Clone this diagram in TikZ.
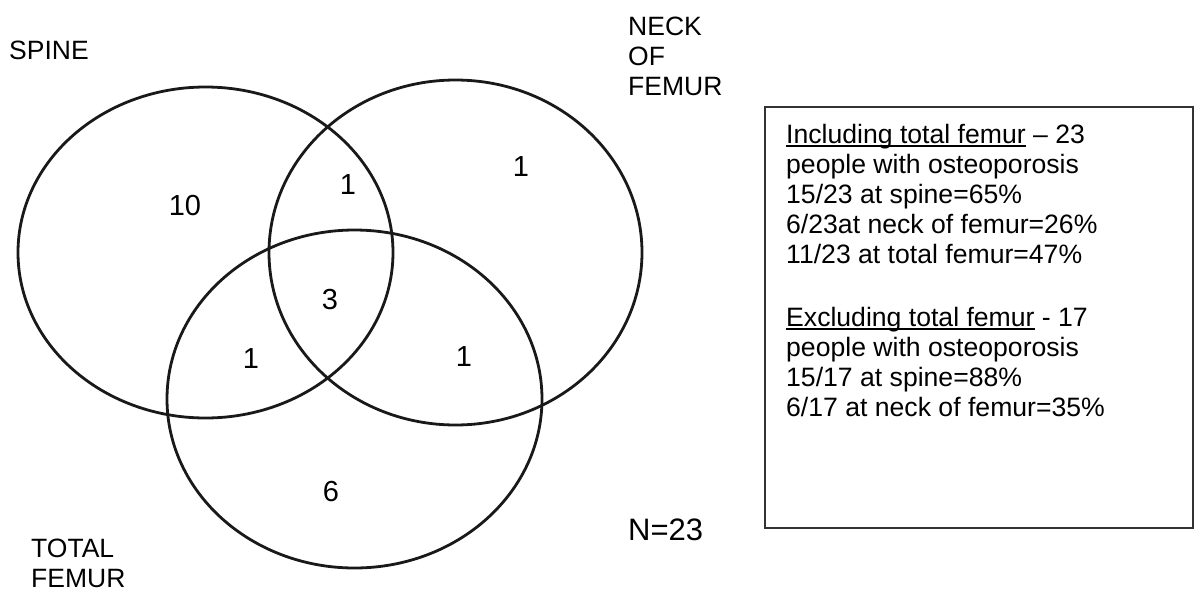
\documentclass[tikz,border=0pt]{standalone}
\usepackage{fontspec}
\setmainfont{Liberation Sans}
\newcommand\ulx[1]{\setbox0=\hbox{#1}\rlap{\rule[-3.6pt]{\wd0}{1.3pt}}\box0\relax}
\begin{document}
\begin{tikzpicture}[x=1pt,y=-1pt,
  setring/.style={line width=2.8pt, draw=black!90},
  lab/.style={anchor=base west, inner sep=0pt, font=\fontsize{26.5}{30}\selectfont},
  cnt/.style={anchor=center, inner sep=0pt, font=\fontsize{29}{32}\selectfont},
  boxtxt/.style={anchor=base west, inner sep=0pt, font=\fontsize{26.6}{30}\selectfont},
  infobox/.style={draw=black!80, line width=1.5pt}]
\useasboundingbox (0,0) rectangle (1200,592);
% set centres
\coordinate (cspine) at (205.5,252.5);
\coordinate (cneck) at (455.5,252.5);
\coordinate (ctotal) at (354.5,399);
\draw[setring] (cspine) ellipse [x radius=187.5pt, y radius=165.5pt];
\draw[setring] (cneck) ellipse [x radius=186.5pt, y radius=172.5pt];
\draw[setring] (ctotal) ellipse [x radius=187.5pt, y radius=169pt];
% labels
\node[lab] (spine) at (9,59) {SPINE};
\node[lab] (neck1) at (628,35) {NECK};
\node[lab] (neck2) at (628,65) {OF};
\node[lab] (neck3) at (628,95) {FEMUR};
\node[lab] (tot1) at (31,557) {TOTAL};
\node[lab] (tot2) at (31,587) {FEMUR};
\node[anchor=base west, inner sep=0pt, font=\fontsize{31}{34}\selectfont] (n) at (628,540) {N=23};
% counts
\node[cnt] (c10) at (185,206) {10};
\node[cnt] (csn) at (348,185) {1};
\node[cnt] (cn) at (521,167) {1};
\node[cnt] (c3) at (330,300) {3};
\node[cnt] (cst) at (251,359) {1};
\node[cnt] (cnt2) at (464,357) {1};
\node[cnt] (c6) at (331,492) {6};
% info box
\draw[infobox] (765,107) rectangle (1193,528);
\node[boxtxt] (l1) at (786,143) {\ulx{Including total femur} – 23};
\node[boxtxt] (l2) at (786,173) {people with osteoporosis};
\node[boxtxt] (l3) at (786,203) {15/23 at spine=65\%};
\node[boxtxt] (l4) at (786,233) {6/23at neck of femur=26\%};
\node[boxtxt] (l5) at (786,263) {11/23 at total femur=47\%};
\node[boxtxt] (l6) at (786,326) {\ulx{Excluding total femur} - 17};
\node[boxtxt] (l7) at (786,356) {people with osteoporosis};
\node[boxtxt] (l8) at (786,386) {15/17 at spine=88\%};
\node[boxtxt] (l9) at (786,416) {6/17 at neck of femur=35\%};
\end{tikzpicture}
\end{document}
